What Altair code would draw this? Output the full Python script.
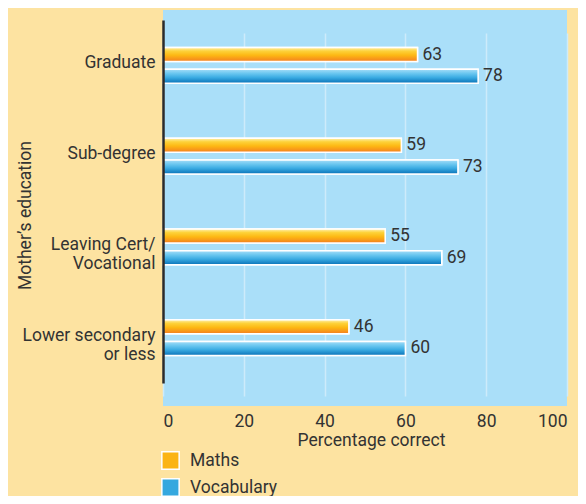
import altair as alt
import pandas as pd

categories = ["Graduate", "Sub-degree", "Leaving Cert/\nVocational", "Lower secondary\nor less"]
maths = [63, 59, 55, 46]
vocabulary = [78, 73, 69, 60]
series = ["Maths", "Vocabulary"]
x_ticks = [0, 20, 40, 60, 80, 100]

rows = []
for c, m, v in zip(categories, maths, vocabulary):
    rows.append({"edu": c, "series": "Maths", "value": m})
    rows.append({"edu": c, "series": "Vocabulary", "value": v})
df = pd.DataFrame(rows)

FONT = "Roboto"
FS = 17.5
TXT = "#333333"

orange_stops = [("#FFF0B0", 0), ("#FDD23A", 0.25), ("#FDB813", 0.55), ("#F47E20", 1)]
blue_stops = [("#A7DEF8", 0), ("#6BC7F0", 0.3), ("#3AABE2", 0.6), ("#0A72B8", 1)]


def grad(stops, horizontal=False):
    return alt.LinearGradient(
        gradient="linear", x1=0, y1=0, x2=1 if horizontal else 0, y2=0 if horizontal else 1,
        stops=[alt.GradientStop(color=c, offset=o) for c, o in stops])


def grad_dict(stops):
    return {"gradient": "linear", "x1": 0, "y1": 0, "x2": 1, "y2": 0,
            "stops": [{"color": c, "offset": o} for c, o in stops]}


orange_grad = grad(orange_stops)
blue_grad = grad(blue_stops)

y_enc = alt.Y("edu:N", sort=categories,
              scale=alt.Scale(range=[10, 373], paddingInner=0, paddingOuter=0),
              axis=alt.Axis(title="Mother\u2019s education", labelExpr="split(datum.label, '\\n')",
                            ticks=False, domainColor="#2b2b2b", domainWidth=2.5, zindex=1,
                            labelFontSize=FS, labelColor=TXT, labelFont=FONT, labelPadding=8,
                            labelLineHeight=19, labelOffset=-2,
                            titleFontSize=FS, titleFontWeight="normal", titleColor=TXT,
                            titleFont=FONT, titleX=-138, titleY=205, titleAngle=-90,
                            titleAlign="center", titleBaseline="middle", grid=False))
yoff_enc = alt.YOffset("series:N", sort=series,
                       scale=alt.Scale(range=[27.55, 63.15], paddingInner=0.352, paddingOuter=0))
x_enc = alt.X("value:Q", scale=alt.Scale(domain=[0, 100], nice=False),
              axis=alt.Axis(title="Percentage correct", values=x_ticks, ticks=False, domain=False,
                            labelFontSize=FS, labelColor=TXT, labelFont=FONT, labelPadding=6,
                            titleFontSize=FS, titleFontWeight="normal", titleColor=TXT,
                            titleFont=FONT, titlePadding=2, titleX=208,
                            grid=True, gridColor="#CDEBFB", gridWidth=1.5))

legend_kw = dict(title=None, orient="none", legendX=-2, legendY=441,
                 symbolType="square", symbolSize=300, symbolStrokeColor="white",
                 symbolStrokeWidth=1.5, symbolOpacity=1,
                 labelFontSize=FS, labelFont=FONT, labelColor=TXT,
                 labelOffset=10, rowPadding=2)
sym_fill = {"symbols": {"update": {"fill": [
    {"test": "datum.value === 'Maths'", "value": grad_dict(orange_stops)},
    {"value": grad_dict(blue_stops)}]}}}
try:
    legend = alt.Legend(encoding=sym_fill, **legend_kw)
except Exception:
    legend = alt.Legend(**legend_kw)

base = alt.Chart(df)

legend_bars = base.mark_bar(stroke="white", strokeWidth=1.5).encode(
    y=y_enc, yOffset=yoff_enc, x=x_enc,
    color=alt.Color("series:N", sort=series,
                    scale=alt.Scale(domain=series, range=["#FBB414", "#35A8DF"]),
                    legend=legend),
)

grad_bars = base.mark_bar(stroke="white", strokeWidth=1.5).encode(
    y=y_enc, yOffset=yoff_enc, x=x_enc,
    fill=alt.condition("datum.series == 'Maths'", alt.value(orange_grad), alt.value(blue_grad)),
)

labels = base.mark_text(align="left", baseline="middle", dx=5, fontSize=FS, font=FONT, color=TXT).encode(
    y=y_enc, yOffset=yoff_enc, x=x_enc, text="value:Q",
)

chart = (legend_bars + grad_bars + labels).properties(
    width=404, height=396,
    background="#FDE3A1",
    padding={"left": 155, "top": 2, "right": 11, "bottom": 90},
    autosize=alt.AutoSizeParams(type="none"),
).configure_view(fill="#AADFF9", stroke=None)

chart.save("out.html", embed_options={"renderer": "svg", "actions": False})
